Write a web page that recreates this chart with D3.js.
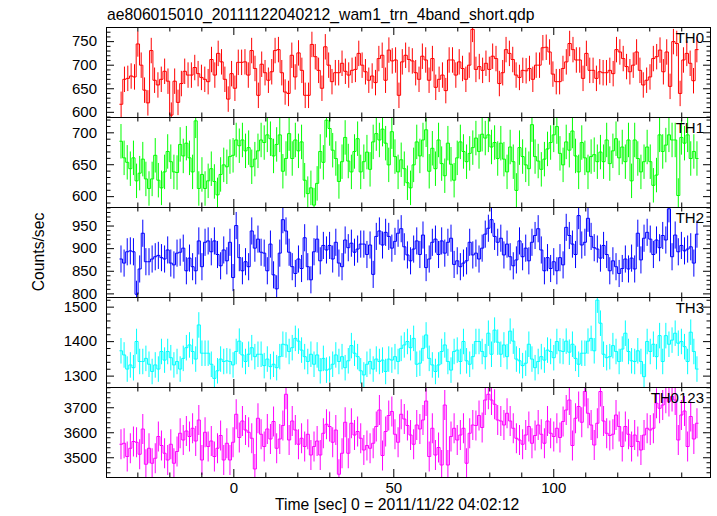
<!DOCTYPE html>
<html><head><meta charset="utf-8">
<script src="https://cdn.jsdelivr.net/npm/d3@7"></script>
<style>
body{margin:0;background:#fff}
svg{display:block}
text{font-family:"Liberation Sans",Arial,Helvetica,sans-serif;fill:#000}
</style>
</head><body>
<svg id="c" width="717" height="516"></svg>
<script>
const title = "ae806015010_20111122040212_wam1_trn_4band_short.qdp";
const xLabel = "Time [sec] 0 = 2011/11/22 04:02:12";
const yLabel = "Counts/sec";
const bandNames = ["TH0","TH1","TH2","TH3","TH0123"];
const bandColors = ["#ff0000","#00ff00","#0000ff","#00ffff","#ff00ff"];
const yDomains = [[589,780],[583,724],[792,991],[1267,1528],[3421,3781]];
const yMajorStep = [50,50,50,100,100];
const yMinorStep = [10,10,10,20,20];
const errHalf = [27,27,30,37,60];
const xDomain = [-39.8,149.3];
const xMajorTicks = [-50,0,50,100,150];
const xMinorStep = 10;
const tStart = -35.6, tEnd = 145.4;

const th0 = [616,669,671,676,674,744,699,646,619,730,667,657,669,686,665,593,665,620,660,686,678,678,694,681,673,669,664,711,678,724,706,669,627,681,650,705,705,706,678,730,692,635,701,683,667,685,730,732,683,642,639,720,674,725,688,635,635,743,717,688,650,738,699,664,683,683,703,686,678,688,690,724,
699,685,667,676,662,713,720,667,731,708,710,635,706,720,711,708,683,669,718,710,667,713,652,669,678,645,710,710,678,706,692,669,699,775,690,696,688,703,690,718,713,660,683,732,724,711,678,673,688,687,692,669,699,699,736,737,727,680,664,664,692,706,745,732,710,710,671,724,688,688,671,685,683,683,688,681,732,727,713,696,685,699,727,688,657,667,674,713,717,731,685,727,654,749,745,639,710,724,703,666,732];
const th1 = [686,660,653,643,660,624,636,658,627,612,627,664,625,613,638,670,654,638,637,681,663,683,660,638,718,612,634,612,624,643,623,602,634,649,646,662,664,688,679,688,671,676,646,658,671,688,684,696,690,663,681,696,639,659,698,659,688,671,685,625,604,613,586,620,670,653,719,706,672,659,623,654,692,655,638,670,690,638,654,669,642,685,698,688,705,683,649,701,662,638,657,643,621,613,649,685,663,688,704,639,675,643,688,651,632,683,650,625,660,685,670,654,667,676,691,670,697,691,696,677,684,659,683,658,638,677,654,609,676,662,649,643,712,662,655,642,658,674,684,696,709,667,649,685,672,702,663,638,684,660,638,662,665,654,669,654,688,651,671,690,660,677,654,688,624,688,659,638,654,677,654,617,633,696,670,680,696,688,688,601,692,683,696,659,670,659];
const th2 = [876,867,892,894,892,798,854,933,870,870,876,881,884,879,876,896,867,863,889,891,900,850,878,859,850,916,859,913,916,892,916,886,861,896,872,913,835,950,879,850,870,859,938,900,920,891,889,850,909,841,810,889,963,938,891,859,844,876,855,923,859,830,892,920,872,906,896,906,876,913,867,859,918,901,911,891,898,909,909,886,907,842,926,938,907,935,926,900,915,933,943,903,885,872,898,916,886,929,857,876,913,920,886,916,889,913,922,864,872,859,867,872,913,885,889,876,900,931,944,963,926,913,922,885,909,881,861,874,916,881,900,872,913,928,943,896,850,879,855,870,850,879,863,946,928,909,886,972,907,913,966,926,901,898,878,906,886,850,872,859,844,855,876,854,878,854,933,874,922,935,920,886,918,901,928,918,987,881,929,892,906,894,898,903,867,931];
const th3 = [1372,1360,1319,1331,1323,1399,1341,1341,1350,1333,1312,1331,1319,1370,1345,1370,1352,1331,1341,1319,1350,1381,1389,1370,1348,1447,1365,1365,1365,1333,1292,1314,1348,1341,1343,1341,1331,1370,1400,1360,1341,1362,1381,1355,1362,1362,1329,1348,1326,1333,1323,1355,1391,1389,1370,1381,1408,1400,1374,1355,1341,1362,1333,1360,1314,1350,1316,1319,1333,1360,1341,1355,1323,1343,1387,1365,1355,1314,1302,1333,1341,1319,1348,1341,1345,1312,1348,1345,1355,1341,1379,1389,1399,1381,1408,1333,1336,1379,1418,1350,1331,1312,1331,1370,1389,1341,1316,1370,1374,1341,1399,1343,1333,1355,1399,1399,1370,1355,1423,1362,1432,1397,1362,1389,1355,1429,1400,1348,1343,1329,1336,1391,1348,1323,1341,1355,1345,1374,1370,1352,1399,1372,1370,1400,1368,1391,1350,1333,1365,1365,1400,1408,1372,1519,1452,1362,1352,1355,1387,1370,1341,1377,1423,1370,1343,1341,1372,1341,1297,1399,1370,1391,1355,1416,1341,1416,1391,1403,1423,1394,1399,1384,1341,1426,1370,1319];
const th0123 = [3552,3556,3503,3536,3563,3560,3512,3613,3472,3536,3476,3496,3583,3547,3516,3489,3552,3476,3523,3596,3569,3605,3583,3616,3565,3649,3489,3600,3543,3565,3503,3536,3587,3489,3556,3489,3560,3672,3579,3645,3609,3600,3576,3453,3656,3592,3543,3613,3573,3643,3536,3573,3627,3752,3569,3645,3609,3552,3576,3543,3592,3509,3543,3565,3509,3596,3632,3623,3560,3609,3432,3516,3640,3516,3636,3589,3603,3576,3529,3547,3536,3556,3623,3689,3507,3603,3667,3683,3592,3560,3672,3653,3627,3589,3552,3629,3613,3649,3725,3503,3616,3509,3539,3469,3709,3469,3583,3616,3569,3589,3616,3476,3596,3629,3627,3667,3619,3729,3752,3729,3712,3649,3645,3629,3676,3645,3616,3576,3569,3552,3589,3623,3556,3587,3629,3592,3556,3645,3596,3583,3616,3579,3643,3689,3729,3547,3656,3703,3640,3763,3676,3629,3549,3636,3763,3645,3596,3587,3592,3669,3623,3543,3623,3592,3543,3589,3563,3529,3589,3616,3609,3616,3716,3696,3709,3736,3723,3743,3729,3569,3669,3685,3543,3663,3573,3636];

const series = [th0, th1, th2, th3, th0123];

const svg = d3.select("#c");
const L = 106, R = 711, H = 90;
const tops = [27, 117, 207, 297, 387];
const FS = 15;
const x = d3.scaleLinear().domain(xDomain).range([L, R]);

function multiples(dom, step){
  const a = Math.ceil(dom[0]/step)*step, out=[];
  for(let v=a; v<=dom[1]+1e-9; v+=step) out.push(+v.toFixed(6));
  return out;
}
const xMinor = multiples(xDomain, xMinorStep).filter(v => !xMajorTicks.includes(v));
const xMajor = xMajorTicks.filter(v => v>=xDomain[0] && v<=xDomain[1]);

series.forEach((vals, k) => {
  const top = tops[k], bot = top + H;
  const y = d3.scaleLinear().domain(yDomains[k]).range([bot, top]);
  const col = bandColors[k];
  const n = vals.length, bw = (tEnd - tStart)/n;
  const cid = "clip" + k;
  svg.append("clipPath").attr("id", cid).append("rect")
    .attr("x", L).attr("y", top).attr("width", R-L).attr("height", H);
  const dg = svg.append("g").attr("clip-path", `url(#${cid})`);
  dg.selectAll("line").data(vals).join("line")
    .attr("x1", (v,i) => x(tStart + (i+0.5)*bw))
    .attr("x2", (v,i) => x(tStart + (i+0.5)*bw))
    .attr("y1", v => y(v - errHalf[k]))
    .attr("y2", v => y(v + errHalf[k]))
    .attr("stroke", col).attr("stroke-width", 1);
  const pts = [];
  vals.forEach((v,i) => { pts.push([tStart + i*bw, v]); pts.push([tStart + (i+1)*bw, v]); });
  dg.append("path")
    .attr("d", d3.line().x(d => x(d[0])).y(d => y(d[1]))(pts))
    .attr("fill", "none").attr("stroke", col).attr("stroke-width", 1);

  const majors = multiples(yDomains[k], yMajorStep[k]);
  const minors = multiples(yDomains[k], yMinorStep[k]).filter(v => !majors.includes(v));
  const style = g => { g.select(".domain").remove(); g.selectAll("line").attr("stroke","#000"); g.selectAll("text").attr("font-size", FS).attr("fill","#000").attr("font-family", null); g.attr("font-family", null).attr("font-size", null); };

  svg.append("g").attr("transform", `translate(${L},0)`)
    .call(d3.axisLeft(y).tickValues(majors).tickSize(-8).tickPadding(9).tickFormat(d3.format("d"))).call(style);
  svg.append("g").attr("transform", `translate(${L},0)`)
    .call(d3.axisLeft(y).tickValues(minors).tickSize(-4.5).tickFormat("")).call(style);
  svg.append("g").attr("transform", `translate(${R},0)`)
    .call(d3.axisRight(y).tickValues(majors).tickSize(-8).tickFormat("")).call(style);
  svg.append("g").attr("transform", `translate(${R},0)`)
    .call(d3.axisRight(y).tickValues(minors).tickSize(-4.5).tickFormat("")).call(style);

  svg.append("g").attr("transform", `translate(0,${top})`)
    .call(d3.axisTop(x).tickValues(xMajor).tickSize(-8).tickFormat("")).call(style);
  svg.append("g").attr("transform", `translate(0,${top})`)
    .call(d3.axisTop(x).tickValues(xMinor).tickSize(-4.5).tickFormat("")).call(style);
  const last = k === series.length - 1;
  svg.append("g").attr("transform", `translate(0,${bot})`)
    .call(d3.axisBottom(x).tickValues(xMajor).tickSize(-8).tickPadding(5).tickFormat(last ? d3.format("d") : "")).call(style);
  svg.append("g").attr("transform", `translate(0,${bot})`)
    .call(d3.axisBottom(x).tickValues(xMinor).tickSize(-4.5).tickFormat("")).call(style);

  svg.append("rect").attr("x", L+0.5).attr("y", top+0.5).attr("width", R-L-1).attr("height", H)
    .attr("fill","none").attr("stroke","#000").attr("stroke-width",1);

  svg.append("text").attr("x", 704).attr("y", top + 16).attr("text-anchor","end")
    .attr("font-size", FS).text(bandNames[k]);
});

svg.append("text").attr("x", 107).attr("y", 20).attr("font-size", 15.7).text(title);
svg.append("text").attr("x", 275).attr("y", 510).attr("text-anchor","start").attr("font-size", 15.7).text(xLabel);
svg.append("text").attr("transform", `translate(44,252) rotate(-90)`).attr("text-anchor","middle").attr("font-size", 15.7).text(yLabel);
</script>
</body></html>
